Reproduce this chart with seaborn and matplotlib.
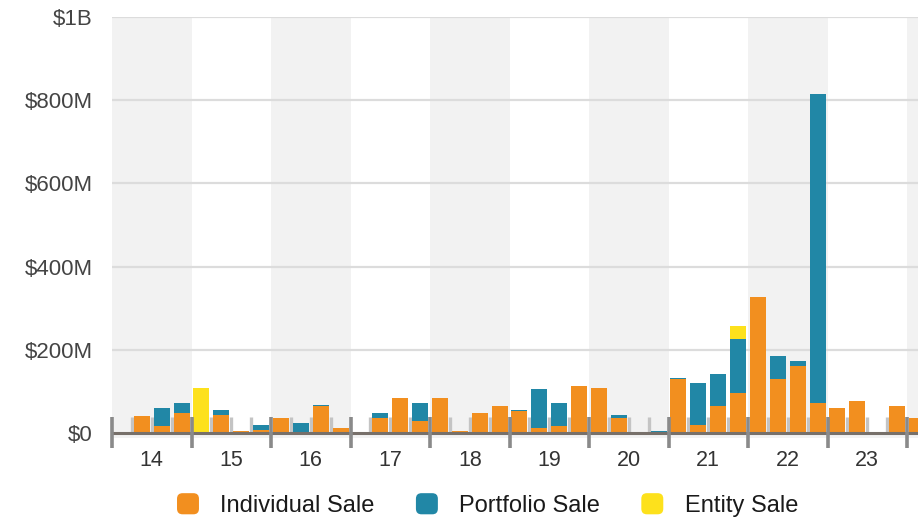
import numpy as np
import pandas as pd
import matplotlib
matplotlib.use("Agg")
import matplotlib.pyplot as plt
import matplotlib.patches as mpatches
from matplotlib.patches import FancyBboxPatch
from matplotlib.legend_handler import HandlerPatch
import seaborn as sns

# ---------------- data (millions of $) ----------------
year_labels = ["14", "15", "16", "17", "18", "19", "20", "21", "22", "23"]
quarters = ["2014Q1", "2014Q2", "2014Q3", "2014Q4",
            "2015Q1", "2015Q2", "2015Q3", "2015Q4",
            "2016Q1", "2016Q2", "2016Q3", "2016Q4",
            "2017Q1", "2017Q2", "2017Q3", "2017Q4",
            "2018Q1", "2018Q2", "2018Q3", "2018Q4",
            "2019Q1", "2019Q2", "2019Q3", "2019Q4",
            "2020Q1", "2020Q2", "2020Q3", "2020Q4",
            "2021Q1", "2021Q2", "2021Q3", "2021Q4",
            "2022Q1", "2022Q2", "2022Q3", "2022Q4",
            "2023Q1", "2023Q2", "2023Q3", "2023Q4",
            "2024Q1"]
individual = [0, 40, 16, 49,
              0, 44, 6, 8,
              37, 0, 65, 11,
              3, 35, 85, 30,
              85, 4, 49, 66,
              54, 13, 18, 112,
              107, 37, 0, 0,
              129, 20, 64, 97,
              328, 131, 160, 71,
              61, 78, 0, 64,
              35]
portfolio = [0, 0, 43, 22,
             0, 12, 0, 12,
             0, 23, 3, 0,
             0, 12, 0, 41,
             0, 0, 0, 0,
             2, 92, 53, 0,
             2, 7, 0, 6,
             4, 101, 77, 128,
             0, 53, 14, 745,
             0, 0, 0, 0,
             0]
entity = [0, 0, 0, 0,
          109, 0, 0, 0,
          0, 0, 0, 0,
          0, 0, 0, 0,
          0, 0, 0, 0,
          0, 0, 0, 0,
          0, 0, 0, 0,
          0, 0, 0, 33,
          0, 0, 0, 0,
          0, 0, 0, 0,
          0]
y_ticks = [0, 200, 400, 600, 800, 1000]
y_tick_labels = ["$0", "$200M", "$400M", "$600M", "$800M", "$1B"]
series_names = ["Individual Sale", "Portfolio Sale", "Entity Sale"]

C_IND = "#f28f1f"
C_POR = "#2187a6"
C_ENT = "#fde11c"

df = pd.DataFrame({"quarter": quarters,
                   "individual": individual,
                   "portfolio": portfolio,
                   "entity": entity})
df["ip"] = df["individual"] + df["portfolio"]
df["total"] = df["ip"] + df["entity"]

# ---------------- style ----------------
sns.set_theme(style="white")
plt.rcParams["font.family"] = ["Liberation Sans", "DejaVu Sans"]

W, H = 918, 519
fig = plt.figure(figsize=(W / 100, H / 100), dpi=100)
ax = fig.add_axes([112 / W, 1 - 438 / H, 806 / W, (438 - 17) / H])

n = len(quarters)
xmin, xmax = -0.5, -0.5 + 806 / 19.875

# alternating year bands
for k in range(0, 11, 2):
    ax.fill_between([4 * k - 0.5, 4 * k + 3.5], 0, 1000, color="#f2f2f2",
                    lw=0, zorder=0)
# light strip under the baseline
ax.fill_between([xmin, xmax], -12, 0, color="#f2f2f2", lw=0, zorder=0)

# horizontal grid
for v in y_ticks[1:]:
    ax.axhline(v, color="#dcdcdc", lw=1.6, zorder=0.5)

# stacked bars (layered cumulative totals)
common = dict(order=quarters, width=0.8, saturation=1, errorbar=None,
              linewidth=0, ax=ax, zorder=2)
sns.barplot(data=df, x="quarter", y="total", color=C_ENT, **common)
sns.barplot(data=df, x="quarter", y="ip", color=C_POR, **common)
sns.barplot(data=df, x="quarter", y="individual", color=C_IND, **common)

# quarter ticks
q_bounds = [i - 0.5 for i in range(n + 1) if i % 4 != 0]
ax.vlines(q_bounds, 0, 38, color="#c4c4c4", lw=2.4, zorder=1.5)
# baseline
ax.axhline(0, color="#77706a", lw=2.2, zorder=3)
# year ticks
y_bounds = [4 * k - 0.5 for k in range(11)]
ax.vlines(y_bounds, -36, 38, color="#8a8a8a", lw=2.6, zorder=4, clip_on=False)

ax.set_xlim(xmin, xmax)
ax.set_ylim(-12, 1000)
ax.set_xticks([4 * k + 1.5 for k in range(len(year_labels))])
ax.set_xticklabels(year_labels)
ax.set_yticks(y_ticks)
ax.set_yticklabels(y_tick_labels)
ax.tick_params(axis="x", length=0, pad=9, labelsize=15.5, labelcolor="#333333")
ax.tick_params(axis="y", length=0, pad=14, labelsize=16, labelcolor="#444444")
ax.set_xlabel("")
ax.set_ylabel("")
ax.grid(False)
for s in ax.spines.values():
    s.set_visible(False)


class RoundHandler(HandlerPatch):
    def create_artists(self, legend, orig_handle, xdescent, ydescent,
                       width, height, fontsize, trans):
        p = FancyBboxPatch((-xdescent, -ydescent), width, height,
                           boxstyle="round,pad=0,rounding_size=4",
                           facecolor=orig_handle.get_facecolor(),
                           edgecolor="none", transform=trans)
        return [p]


handles = [mpatches.Patch(facecolor=c) for c in (C_IND, C_POR, C_ENT)]
fig.legend(handles, series_names, loc="center",
           bbox_to_anchor=(0.531, 1 - 505 / H), ncol=3, frameon=False,
           fontsize=17, handlelength=0.93, handleheight=1.0,
           handletextpad=0.9, columnspacing=1.75, labelcolor="#1a1a1a",
           handler_map={mpatches.Patch: RoundHandler()})

fig.savefig("out.png", dpi=100)
